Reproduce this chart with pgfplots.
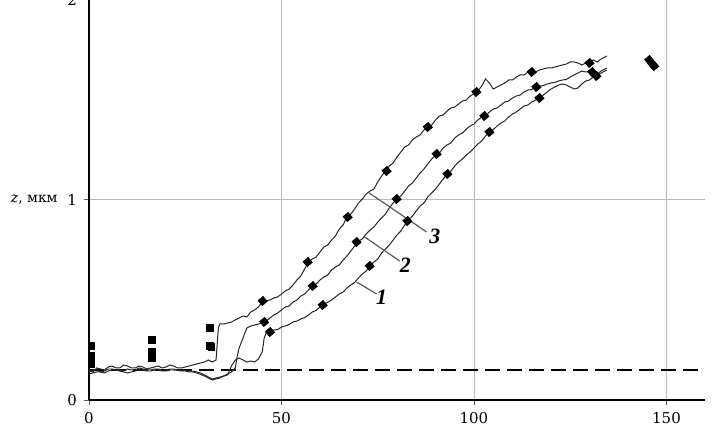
\documentclass[border=0pt]{standalone}
\usepackage{fontspec}
\setmainfont{DejaVu Serif}
\newfontfamily\tnr{Liberation Serif}
\usepackage{pgfplots}
\pgfplotsset{compat=1.18}

\begin{document}
\begin{tikzpicture}
\begin{axis}[
  scale only axis, width=308bp, height=200bp,
  xmin=0, xmax=160, ymin=0, ymax=2,
  axis lines*=left,
  axis line style={black, line width=0.6bp},
  xtick={0,50,100,150}, ytick={0,1,2},
  grid=major, major grid style={gray!55, line width=0.5bp},
  tick align=outside, major tick length=2.5bp,
  tick style={gray!70!black, line width=0.5bp},
  ticklabel style={font=\fontsize{7.5}{9}\selectfont},
  /pgf/number format/assume math mode=true,
  clip=false,
]
\coordinate (o) at (rel axis cs:0,0);

% baseline
\addplot[black, line width=1.4bp, dash pattern=on 7.5bp off 3.5bp] coordinates {(0,0.15) (158.5,0.15)};

% curve 3
\addplot[black!85, line width=0.5bp] coordinates {
(0,0.15) (1,0.14) (2,0.16) (3,0.155) (4,0.15) (5,0.165) (6,0.17) (7,0.16) (8,0.16) (9,0.175) (10,0.17)
(11,0.16) (12,0.16) (13,0.17) (14,0.165) (15,0.155) (16,0.16) (17,0.165) (18,0.17) (19,0.16) (20,0.165)
(21,0.175) (22,0.17) (23,0.16) (24,0.16) (25,0.165) (26,0.17) (27,0.175) (28,0.18) (29,0.185) (30,0.19)
(31,0.2) (32,0.19) (33,0.2) (33.6,0.36) (34,0.38) (35,0.38) (36,0.385) (37,0.39) (38,0.4) (39,0.41)
(40,0.42) (41,0.415) (42,0.44) (43,0.45) (44,0.465) (45,0.49) (46,0.495) (47,0.5) (48,0.51) (49,0.515)
(50,0.53) (51,0.545) (52,0.555) (53,0.575) (54,0.6) (55,0.62) (56,0.655) (57,0.69) (58,0.705) (59,0.715)
(60,0.74) (61,0.765) (62,0.775) (63,0.8) (64,0.82) (65,0.855) (66,0.875) (67,0.915) (68,0.93) (69,0.955)
(70,0.985) (71,1.005) (72,1.03) (73,1.045) (74,1.055) (75,1.09) (76,1.12) (77,1.145) (78,1.17) (79,1.185)
(80,1.215) (81,1.24) (82,1.265) (83,1.275) (84,1.3) (85,1.315) (86,1.325) (87,1.35) (88,1.365) (89,1.375)
(90,1.4) (91,1.42) (92,1.425) (93,1.445) (94,1.46) (95,1.465) (96,1.48) (97,1.495) (98,1.5) (99,1.52)
(100,1.53) (101,1.545) (102,1.57) (103,1.605) (104,1.585) (105,1.555) (106,1.565) (107,1.575) (108,1.585) (109,1.6)
(110,1.6) (111,1.615) (112,1.625) (113,1.625) (114,1.64) (115,1.645) (116,1.64) (117,1.65) (118,1.655) (119,1.66)
(120,1.66) (121,1.665) (122,1.67) (123,1.675) (124,1.68) (125,1.69) (126,1.69) (127,1.685) (128,1.675) (129,1.685)
(130,1.69) (131,1.7) (132,1.69) (133,1.705) (134,1.715) (134.5,1.72)};

% curve 2
\addplot[black!85, line width=0.5bp] coordinates {
(0,0.14) (1,0.15) (2,0.15) (3,0.14) (4,0.145) (5,0.155) (6,0.155) (7,0.15) (8,0.15) (9,0.145) (10,0.155)
(11,0.15) (12,0.15) (13,0.16) (14,0.155) (15,0.15) (16,0.15) (17,0.155) (18,0.155) (19,0.15) (20,0.15)
(21,0.155) (22,0.155) (23,0.15) (24,0.15) (25,0.148) (26,0.145) (27,0.145) (28,0.14) (29,0.135) (30,0.125)
(31,0.115) (32,0.105) (33,0.11) (34,0.115) (35,0.12) (36,0.13) (37,0.14) (38,0.16) (38.5,0.22) (39,0.26)
(40,0.31) (41,0.36) (42,0.37) (43,0.375) (44,0.38) (45,0.385) (46,0.395) (47,0.41) (48,0.425) (49,0.435)
(50,0.45) (51,0.465) (52,0.47) (53,0.49) (54,0.5) (55,0.52) (56,0.53) (57,0.55) (58,0.57) (59,0.58)
(60,0.6) (61,0.615) (62,0.625) (63,0.65) (64,0.665) (65,0.675) (66,0.7) (67,0.72) (68,0.745) (69,0.77)
(70,0.795) (71,0.805) (72,0.83) (73,0.85) (74,0.865) (75,0.89) (76,0.91) (77,0.93) (78,0.96) (79,0.985)
(80,1.005) (81,1.02) (82,1.045) (83,1.07) (84,1.085) (85,1.11) (86,1.135) (87,1.155) (88,1.18) (89,1.205)
(90,1.225) (91,1.235) (92,1.26) (93,1.275) (94,1.285) (95,1.31) (96,1.325) (97,1.335) (98,1.355) (99,1.37)
(100,1.38) (101,1.4) (102,1.415) (103,1.42) (104,1.44) (105,1.455) (106,1.46) (107,1.475) (108,1.49) (109,1.495)
(110,1.51) (111,1.52) (112,1.525) (113,1.54) (114,1.55) (115,1.552) (116,1.565) (117,1.57) (118,1.572) (119,1.58)
(120,1.585) (121,1.588) (122,1.595) (123,1.6) (124,1.603) (125,1.615) (126,1.625) (127,1.635) (128,1.645) (129,1.64)
(130,1.64) (131,1.645) (132,1.63) (133,1.645) (134,1.655) (134.5,1.66)};

% curve 1
\addplot[black!85, line width=0.5bp] coordinates {
(0,0.13) (1,0.135) (2,0.14) (3,0.14) (4,0.135) (5,0.145) (6,0.15) (7,0.15) (8,0.145) (9,0.14) (10,0.135)
(11,0.14) (12,0.145) (13,0.15) (14,0.15) (15,0.145) (16,0.145) (17,0.15) (18,0.15) (19,0.145) (20,0.145)
(21,0.15) (22,0.15) (23,0.148) (24,0.145) (25,0.145) (26,0.14) (27,0.14) (28,0.135) (29,0.128) (30,0.12)
(31,0.11) (32,0.1) (33,0.105) (34,0.11) (35,0.12) (36,0.125) (37,0.17) (38,0.2) (39,0.21) (40,0.2)
(41,0.19) (42,0.195) (43,0.19) (44,0.205) (45,0.24) (45.5,0.31) (46,0.335) (47,0.34) (48,0.35) (49,0.352)
(50,0.365) (51,0.37) (52,0.378) (53,0.39) (54,0.395) (55,0.405) (56,0.412) (57,0.425) (58,0.44) (59,0.448)
(60,0.465) (61,0.48) (62,0.488) (63,0.5) (64,0.515) (65,0.53) (66,0.54) (67,0.56) (68,0.575) (69,0.588)
(70,0.61) (71,0.63) (72,0.645) (73,0.67) (74,0.69) (75,0.705) (76,0.735) (77,0.755) (78,0.775) (79,0.8)
(80,0.825) (81,0.845) (82,0.875) (83,0.9) (84,0.92) (85,0.945) (86,0.97) (87,0.985) (88,1.015) (89,1.035)
(90,1.055) (91,1.08) (92,1.105) (93,1.13) (94,1.145) (95,1.17) (96,1.19) (97,1.205) (98,1.225) (99,1.24)
(100,1.26) (101,1.28) (102,1.295) (103,1.32) (104,1.34) (105,1.352) (106,1.37) (107,1.385) (108,1.395) (109,1.415)
(110,1.43) (111,1.44) (112,1.455) (113,1.47) (114,1.475) (115,1.49) (116,1.5) (117,1.51) (118,1.525) (119,1.54)
(120,1.555) (121,1.565) (122,1.575) (123,1.58) (124,1.575) (125,1.565) (126,1.555) (127,1.56) (128,1.58) (129,1.595)
(130,1.6) (131,1.615) (132,1.625) (133,1.635) (134,1.645) (134.5,1.65)};

% measured points
\addplot[only marks, mark=square*, mark size=1.6bp, black] coordinates {
(0.6,0.27) (0.6,0.22) (0.6,0.18) (16.3,0.30) (16.3,0.24) (16.3,0.21) (31.4,0.36) (31.4,0.27) (31.8,0.265)};
\addplot[only marks, mark=square*, mark size=1.6bp, mark options={rotate=40}, black] coordinates {
(45.1,0.495) (56.8,0.69) (67.2,0.915) (77.3,1.145) (88,1.365) (100.6,1.54) (115,1.64) (130,1.685) (145.5,1.70)};
\addplot[only marks, mark=square*, mark size=1.6bp, mark options={rotate=40}, black] coordinates {
(45.5,0.39) (58.1,0.57) (69.5,0.79) (79.9,1.005) (90.3,1.23) (102.7,1.42) (116.2,1.565) (130.7,1.64) (146.3,1.68)};
\addplot[only marks, mark=square*, mark size=1.6bp, mark options={rotate=40}, black] coordinates {
(47,0.34) (60.7,0.475) (72.9,0.67) (82.7,0.895) (93.1,1.13) (104,1.34) (117,1.51) (131.8,1.62) (146.8,1.67)};

% curve labels
\draw[gray!70!black, line width=0.6bp] (axis cs:72.4,1.04) -- (axis cs:87.7,0.84);
\draw[gray!70!black, line width=0.6bp] (axis cs:71.6,0.815) -- (axis cs:80.7,0.695);
\draw[gray!70!black, line width=0.6bp] (axis cs:69.5,0.59) -- (axis cs:74.7,0.53);
\node[font=\tnr\bfseries\itshape\fontsize{11}{12}\selectfont] at (axis cs:89.8,0.82) {3};
\node[font=\tnr\bfseries\itshape\fontsize{11}{12}\selectfont] at (axis cs:82.2,0.675) {2};
\node[font=\tnr\bfseries\itshape\fontsize{11}{12}\selectfont] at (axis cs:76,0.515) {1};

\node[anchor=east, font=\fontsize{7}{8}\selectfont, inner sep=0pt] at ([xshift=-15.5bp]axis cs:0,1) {\textit{z}, мкм};
\end{axis}
\pgfresetboundingbox
\path[use as bounding box] ([xshift=-44.5bp,yshift=-13bp]o) rectangle ([xshift=314bp,yshift=200bp]o);
\end{tikzpicture}
\end{document}
